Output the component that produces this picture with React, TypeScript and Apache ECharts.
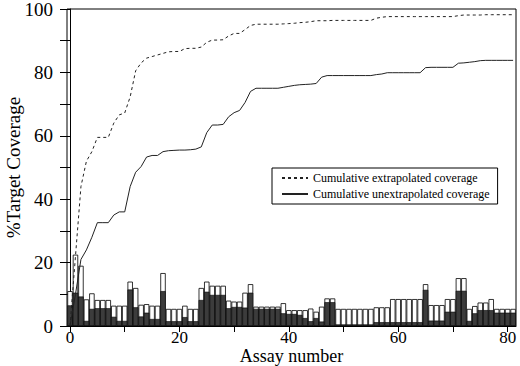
import React, { useEffect, useRef } from "react";
import * as echarts from "echarts";

const assays: number[] = Array.from({ length: 82 }, (_, i) => i);

const extrapolatedBars: number[] = [
  11, 22.5, 19, 8.4, 10.3, 8.2, 8.2, 8.2, 6.4, 6.4,
  6.4, 14, 12, 6.7, 6.9, 6.4, 6.4, 16.7, 5.4, 5.4,
  5.4, 6.4, 5.4, 5.4, 12, 14, 12.7, 12.7, 12.7, 8,
  7.7, 7.7, 10.5, 13.2, 6.1, 6.1, 6.1, 6.1, 6.1, 7.2,
  5, 5, 5, 5, 5.5, 4.5, 6.1, 8.7, 8.7, 5.4,
  5.4, 5.4, 5.4, 5.4, 5.4, 5.4, 5.9, 5.9, 5.9, 8.5,
  8.5, 8.5, 8.5, 8.5, 8.5, 13.2, 6.6, 6.6, 6.6, 8.5,
  8.5, 15.1, 15.1, 5.4, 6.3, 7.4, 7.4, 8.5, 5.4, 5.4,
  5.4, 5.4,
];

const unextrapolatedBars: number[] = [
  6.5, 10.5, 9.3, 1.6, 5.4, 5.6, 5.6, 5.6, 2.9, 1.6,
  1.6, 11.5, 5.9, 3, 4.2, 2.2, 2.2, 11, 1.5, 1.5,
  1.5, 2.8, 1.5, 1.5, 8.2, 10.8, 9.8, 9.8, 9.8, 5.6,
  6, 6, 5.8, 10.5, 5.4, 5.4, 5.4, 5.4, 5.4, 4,
  3.8, 3.8, 3.5, 2.5, 1.5, 2.5, 1.4, 7.5, 7.5, 0.5,
  0.5, 0.5, 0.5, 0.5, 0.5, 0.5, 1.2, 1.2, 1.2, 1.2,
  1.2, 1.2, 1.2, 1.2, 1.2, 11.4, 1.7, 1.7, 1.7, 4.5,
  4.5, 11.1, 11.1, 1.6, 4, 5, 5, 5, 4.2, 4.2,
  4.2, 4.2,
];

const cumulativeExtrapolated: number[] = [
  0, 22, 44, 52, 55, 59.5, 59.5, 59.5, 64, 66.6,
  67.2, 72.3, 80.5, 83, 84.5, 85, 85.5, 86, 86.5, 86.6,
  86.6, 87.5, 87.6, 87.6, 88, 89.5, 90.2, 90.2, 90.3, 91.5,
  92.3, 92.3, 93.5, 94.8, 95.2, 95.2, 95.2, 95.2, 95.2, 95.3,
  95.4, 95.5, 95.7, 95.8, 96, 96.3, 96.3, 96.3, 96.4, 96.4,
  96.4, 96.4, 96.4, 96.4, 96.4, 96.4, 97.1, 97.4, 97.6, 97.6,
  97.6, 97.6, 97.6, 97.6, 97.6, 97.6, 97.6, 97.6, 97.6, 97.6,
  97.6, 97.9, 98.1, 98.1, 98.1, 98.1, 98.2, 98.2, 98.2, 98.2,
  98.2, 98.2,
];

const cumulativeUnextrapolated: number[] = [
  0, 10, 21, 24, 28, 32.6, 32.6, 32.6, 35, 36,
  36, 44, 48.5, 50.3, 53.3, 53.8, 53.8, 55, 55.3, 55.4,
  55.5, 55.5, 55.6, 55.8, 56.5, 61, 63.4, 63.4, 63.6, 66,
  67.3, 68, 70.5, 74, 75, 75, 75, 75, 75, 75.3,
  75.6, 75.9, 76.1, 76.2, 76.3, 76.5, 78.5, 79, 79, 79,
  79, 79, 79, 79, 79, 79, 79.3, 79.5, 79.9, 79.9,
  79.9, 79.9, 79.9, 79.9, 79.9, 81.5, 81.6, 81.6, 81.6, 81.6,
  81.6, 82.9, 83, 83.2, 83.4, 83.7, 83.8, 83.8, 83.8, 83.8,
  83.8, 83.8,
];

const xTickValues: number[] = [0, 10, 20, 30, 40, 50, 60, 70, 80];
const xLabelValues: number[] = [0, 20, 40, 60, 80];

const FONT = "Liberation Serif";

export default function App() {
  const ref = useRef<HTMLDivElement>(null);

  useEffect(() => {
    if (!ref.current) return;
    const chart = echarts.init(ref.current, undefined, { renderer: "svg" });
    const pair = (arr: number[]) => assays.map((a, i) => [a, arr[i]]);

    chart.setOption({
      animation: false,
      backgroundColor: "#fff",
      textStyle: { fontFamily: FONT, color: "#000" },
      grid: {
        left: 67,
        top: 9,
        right: 4,
        bottom: 40,
        containLabel: false,
        outerBoundsMode: "none",
        show: true,
        borderColor: "#000",
        borderWidth: 1,
        backgroundColor: "transparent",
      },
      legend: {
        left: 272,
        top: 168,
        orient: "vertical",
        data: ["Cumulative extrapolated coverage", "Cumulative unextrapolated coverage"],
        backgroundColor: "#fff",
        borderColor: "#000",
        borderWidth: 1,
        borderRadius: 0,
        padding: [4, 8, 4, 9],
        itemWidth: 26,
        itemHeight: 12,
        itemGap: 4,
        itemStyle: { opacity: 0 },
        textStyle: { fontFamily: FONT, fontSize: 12, color: "#000" },
      },
      xAxis: {
        type: "value",
        min: -0.55,
        max: 81.53,
        name: "Assay number",
        nameLocation: "middle",
        nameGap: 21,
        nameMoveOverlap: false,
        nameTextStyle: { fontFamily: FONT, fontSize: 18, color: "#000" },
        axisLine: { show: true, lineStyle: { color: "#000", width: 1 } },
        axisTick: {
          show: true,
          inside: false,
          length: 6,
          customValues: xTickValues,
          lineStyle: { color: "#000" },
        },
        axisLabel: {
          customValues: xLabelValues,
          fontFamily: FONT,
          fontSize: 17,
          color: "#000",
          margin: 3,
        },
        splitLine: { show: false },
      },
      yAxis: {
        type: "value",
        min: 0,
        max: 100,
        interval: 10,
        name: "%Target Coverage",
        nameLocation: "middle",
        nameGap: 44,
        nameMoveOverlap: false,
        nameTextStyle: { fontFamily: FONT, fontSize: 19, color: "#000" },
        axisLine: { show: true, lineStyle: { color: "#000", width: 1 } },
        axisTick: { show: true, inside: false, length: 10, lineStyle: { color: "#000" } },
        axisLabel: {
          formatter: (v: number) => (Math.round(v) % 20 === 0 ? String(v) : ""),
          fontFamily: FONT,
          fontSize: 19,
          color: "#000",
          margin: 14,
        },
        splitLine: { show: false },
      },
      series: [
        {
          name: "extrapolated",
          type: "bar",
          data: pair(extrapolatedBars),
          barWidth: 5.4,
          barGap: "-100%",
          itemStyle: { color: "#fff", borderColor: "#000", borderWidth: 0.8 },
          z: 2,
        },
        {
          name: "unextrapolated",
          type: "bar",
          data: pair(unextrapolatedBars),
          barWidth: 5.4,
          barGap: "-100%",
          itemStyle: { color: "#3c3c3c", borderColor: "#000", borderWidth: 0.6 },
          z: 3,
        },
        {
          name: "Cumulative extrapolated coverage",
          type: "line",
          data: pair(cumulativeExtrapolated),
          symbol: "none",
          lineStyle: { color: "#222", width: 1, type: [3, 3] },
          itemStyle: { color: "#222" },
          z: 5,
        },
        {
          name: "Cumulative unextrapolated coverage",
          type: "line",
          data: pair(cumulativeUnextrapolated),
          symbol: "none",
          lineStyle: { color: "#222", width: 1 },
          itemStyle: { color: "#222" },
          z: 5,
        },
      ],
    });

    return () => chart.dispose();
  }, []);

  return (
    <div
      ref={ref}
      style={{ width: 520, height: 366, position: "absolute", left: 0, top: 0 }}
    />
  );
}
